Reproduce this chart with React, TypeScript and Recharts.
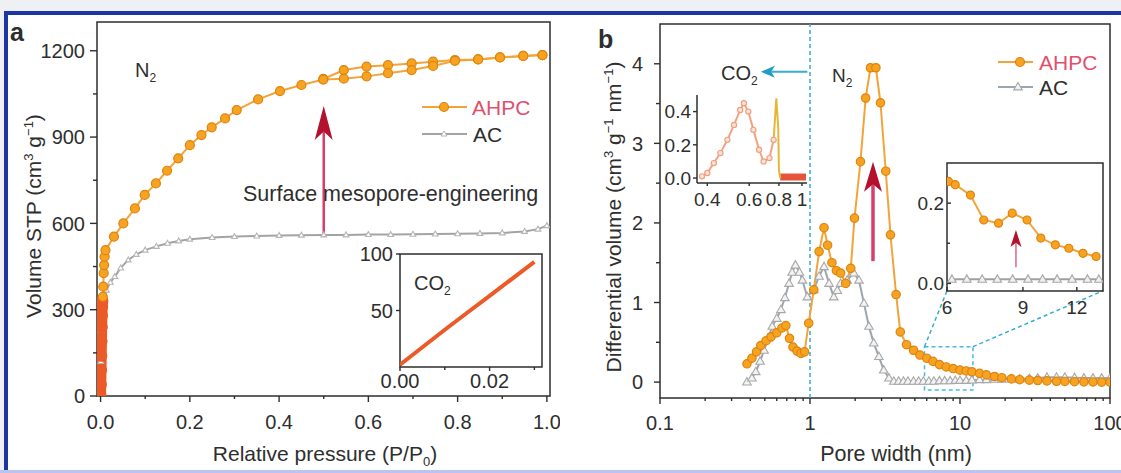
import { LineChart, Line, XAxis, YAxis, ReferenceLine, ReferenceArea } from "recharts";

const FONT = "'Liberation Sans', Arial, Helvetica, sans-serif";
const INK = "#2e2e2e";
const ORANGE = "#f5a320";
const ORANGE_EDGE = "#e0820e";
const ORANGE_LINE = "#f2a43a";
const GRAY = "#a3a3a3";
const RED = "#ec5a28";
const CYAN = "#35acd2";
const CRIMSON = "#d5406a";
const CRIMSON_HEAD = "#b3122f";

type Pt = [number, number];
const rows = (pts: Pt[]) => pts.map(([x, y]) => ({ x, y }));

// ---- panel a: N2 isotherms (P/P0, cm3 g-1)
const ahpcLowP: Pt[] = [[0, 0], [0.0005, 40], [0.001, 90], [0.0015, 140], [0.002, 190], [0.0025, 240], [0.003, 280], [0.0035, 310], [0.004, 330]];
const ahpcAds: Pt[] = [
  [0.005, 345], [0.006, 380], [0.007, 427], [0.008, 455], [0.009, 484], [0.011, 507], [0.03, 554], [0.051, 600],
  [0.077, 652], [0.099, 699], [0.124, 739], [0.149, 783], [0.174, 826], [0.2, 872], [0.226, 907], [0.249, 934],
  [0.279, 965], [0.305, 994], [0.353, 1031], [0.402, 1060], [0.45, 1081], [0.499, 1100], [0.545, 1103], [0.596, 1111],
  [0.644, 1122], [0.697, 1133], [0.745, 1147], [0.794, 1165], [0.846, 1170], [0.895, 1177], [0.947, 1182], [0.99, 1185],
];
const ahpcDes: Pt[] = [
  [0.99, 1185], [0.947, 1182], [0.895, 1177], [0.846, 1170], [0.794, 1168], [0.745, 1162], [0.697, 1156],
  [0.644, 1150], [0.596, 1145], [0.545, 1133], [0.499, 1102],
];
const acIso: Pt[] = [
  [0, 0], [0.0005, 120], [0.0015, 230], [0.003, 280], [0.006, 310], [0.013, 368], [0.022, 395], [0.032, 415],
  [0.045, 445], [0.062, 473], [0.08, 492], [0.1, 507], [0.125, 520], [0.15, 531], [0.175, 539], [0.2, 545],
  [0.25, 551], [0.3, 554], [0.35, 556], [0.4, 558], [0.45, 559], [0.5, 560], [0.55, 560], [0.6, 561], [0.65, 561],
  [0.7, 562], [0.75, 563], [0.8, 564], [0.85, 565], [0.9, 567], [0.95, 572], [0.98, 580], [1.0, 592],
];
// inset a: CO2 isotherm
const co2Iso: Pt[] = [[0, 2], [0.005, 17.5], [0.01, 33], [0.015, 48], [0.02, 63], [0.025, 78], [0.03, 93]];

// ---- panel b: pore size distribution (nm, cm3 g-1 nm-1)
const ahpcPsd: Pt[] = [
  [0.38, 0.23], [0.41, 0.3], [0.44, 0.38], [0.47, 0.46], [0.51, 0.52], [0.55, 0.57], [0.6, 0.62], [0.65, 0.68],
  [0.69, 0.71], [0.73, 0.55], [0.77, 0.44], [0.82, 0.39], [0.87, 0.36], [0.92, 0.38], [0.98, 0.74], [1.06, 1.16],
  [1.15, 1.64], [1.24, 1.94], [1.31, 1.72], [1.4, 1.5], [1.5, 1.4], [1.6, 1.37], [1.73, 1.24], [1.87, 1.43],
  [1.98, 2.06], [2.17, 2.77], [2.35, 3.57], [2.53, 3.95], [2.75, 3.95], [2.95, 3.51], [3.2, 2.65], [3.44, 1.85],
  [3.75, 1.1], [4.0, 0.63], [4.4, 0.47], [4.9, 0.4], [5.4, 0.34], [6.0, 0.3], [6.6, 0.26], [7.3, 0.22], [8.1, 0.19],
  [9.0, 0.17], [10, 0.15], [11, 0.14], [12, 0.13], [13.5, 0.11], [15, 0.09], [17, 0.07], [19, 0.055], [22, 0.04],
  [25, 0.03], [29, 0.025], [33, 0.02], [38, 0.015], [44, 0.01], [50, 0.008], [58, 0.005], [67, 0.003], [77, 0.002],
  [88, 0.0], [100, 0.0],
];
const acPsd: Pt[] = [
  [0.38, 0.0], [0.41, 0.05], [0.435, 0.13], [0.465, 0.26], [0.494, 0.4], [0.525, 0.55], [0.56, 0.7], [0.6, 0.8],
  [0.64, 0.91], [0.68, 1.06], [0.725, 1.24], [0.76, 1.38], [0.8, 1.47], [0.85, 1.38], [0.89, 1.28], [0.96, 1.07],
  [1.06, 1.16], [1.15, 1.33], [1.24, 1.45], [1.34, 1.24], [1.44, 1.07], [1.52, 1.15], [1.6, 1.24], [1.77, 1.28],
  [1.96, 1.37], [2.12, 1.28], [2.29, 0.99], [2.47, 0.7], [2.66, 0.49], [2.88, 0.32], [3.1, 0.15], [3.36, 0.05],
  [3.62, 0.01], [3.9, 0.01], [4.2, 0.01], [4.5, 0.01], [4.9, 0.01], [5.3, 0.01], [5.7, 0.01], [6.2, 0.01],
  [6.7, 0.01], [7.3, 0.015], [7.9, 0.015], [8.6, 0.015], [9.3, 0.02], [10, 0.02], [11, 0.02], [12, 0.025],
  [13.5, 0.03], [15, 0.03], [17, 0.035], [19, 0.035], [22, 0.04], [25, 0.04], [29, 0.045], [33, 0.05], [38, 0.06],
  [44, 0.06], [50, 0.06], [58, 0.055], [67, 0.05], [77, 0.05], [88, 0.05], [100, 0.05],
];
// inset b1: CO2-derived micropores
const co2PsdA: Pt[] = [
  [0.38, 0.01], [0.4, 0.03], [0.426, 0.09], [0.454, 0.15], [0.486, 0.23], [0.518, 0.32], [0.55, 0.41], [0.57, 0.45],
  [0.595, 0.4], [0.625, 0.29], [0.66, 0.17], [0.69, 0.1], [0.73, 0.12], [0.76, 0.23],
];
const co2PsdB: Pt[] = [[0.76, 0.23], [0.78, 0.48], [0.795, 0.3], [0.8, 0.05], [0.81, 0.0]];
const co2Tail: Pt[] = [[0.81, 0.006], [0.86, 0.006], [0.92, 0.006], [0.98, 0.006], [1.04, 0.006]];
// inset b2: 6-13 nm zoom
const ahpcMeso: Pt[] = [
  [6.05, 0.254], [6.27, 0.246], [6.8, 0.22], [7.3, 0.158], [7.9, 0.15], [8.5, 0.175], [9.2, 0.158], [9.9, 0.113],
  [10.7, 0.096], [11.5, 0.0875], [12.4, 0.075], [13.3, 0.067],
];
const acMeso: Pt[] = [
  [6.16, 0.01], [6.67, 0.01], [7.24, 0.01], [7.85, 0.01], [8.52, 0.01], [9.25, 0.01], [10.0, 0.01], [10.8, 0.01],
  [11.7, 0.01], [12.7, 0.01], [13.5, 0.01],
];

// ticks
const aXTicks = [0, 0.1, 0.2, 0.3, 0.4, 0.5, 0.6, 0.7, 0.8, 0.9, 1.0];
const aXLabels: Record<string, string> = { "0": "0.0", "0.2": "0.2", "0.4": "0.4", "0.6": "0.6", "0.8": "0.8", "1": "1.0" };
const aYTicks = [0, 150, 300, 450, 600, 750, 900, 1050, 1200];
const aYLabels: Record<string, string> = { "0": "0", "300": "300", "600": "600", "900": "900", "1200": "1200" };
const bXTicks = [0.1, 0.2, 0.3, 0.4, 0.5, 0.6, 0.7, 0.8, 0.9, 1, 2, 3, 4, 5, 6, 7, 8, 9, 10, 20, 30, 40, 50, 60, 70, 80, 90, 100];
const bXLabels: Record<string, string> = { "0.1": "0.1", "1": "1", "10": "10", "100": "100" };
const bYTicks = [0, 0.5, 1, 1.5, 2, 2.5, 3, 3.5, 4];
const bYLabels: Record<string, string> = { "0": "0", "1": "1", "2": "2", "3": "3", "4": "4" };
const iaXTicks = [0, 0.01, 0.02, 0.03];
const iaXLabels: Record<string, string> = { "0": "0.00", "0.02": "0.02" };
const iaYTicks = [0, 25, 50, 75, 100];
const iaYLabels: Record<string, string> = { "50": "50", "100": "100" };
const ib1XTicks = [0.4, 0.6, 0.8, 1];
const ib1XLabels: Record<string, string> = { "0.4": "0.4", "0.6": "0.6", "0.8": "0.8", "1": "1" };
const ib1YTicks = [0, 0.1, 0.2, 0.3, 0.4];
const ib1YLabels: Record<string, string> = { "0": "0.0", "0.2": "0.2", "0.4": "0.4" };
const ib2XTicks = [6, 9, 12];
const ib2XLabels: Record<string, string> = { "6": "6", "9": "9", "12": "12" };
const ib2YTicks = [0, 0.1, 0.2];
const ib2YLabels: Record<string, string> = { "0": "0.0", "0.2": "0.2" };

type TickSpec = { labels: Record<string, string>; fs: number; gap: number; len?: number; minor?: number; inward?: boolean };

const bottomTick = (s: TickSpec) => (p: any) => {
  const { x, y, payload } = p;
  const lab = s.labels[String(payload.value)];
  const len = lab !== undefined ? s.len ?? 6 : s.minor ?? 3;
  const d = s.inward ? -len : len;
  return (
    <g>
      <line x1={x} x2={x} y1={y} y2={y + d} stroke={INK} strokeWidth={1.4} />
      {lab ? (
        <text x={x} y={y + s.gap} textAnchor="middle" fontSize={s.fs} fontFamily={FONT} fill={INK}>
          {lab}
        </text>
      ) : null}
    </g>
  );
};

const leftTick = (s: TickSpec) => (p: any) => {
  const { x, y, payload } = p;
  const lab = s.labels[String(payload.value)];
  const len = lab !== undefined ? s.len ?? 7 : s.minor ?? 4;
  const d = s.inward ? len : -len;
  return (
    <g>
      <line x1={x} x2={x + d} y1={y} y2={y} stroke={INK} strokeWidth={1.4} />
      {lab ? (
        <text x={x - s.gap} y={y + s.fs * 0.36} textAnchor="end" fontSize={s.fs} fontFamily={FONT} fill={INK}>
          {lab}
        </text>
      ) : null}
    </g>
  );
};

const arrowShape = (shaft: string, head: string, shaftW: number, headLen: number, headHalf: number) => (p: any) => {
  const { x1, y1, x2, y2 } = p;
  const L = Math.hypot(x2 - x1, y2 - y1) || 1;
  const ux = (x2 - x1) / L;
  const uy = (y2 - y1) / L;
  const bx = x2 - ux * headLen;
  const by = y2 - uy * headLen;
  const nx = -uy;
  const ny = ux;
  const kx = bx + ux * headLen * 0.25;
  const ky = by + uy * headLen * 0.25;
  return (
    <g>
      <line x1={x1} y1={y1} x2={kx} y2={ky} stroke={shaft} strokeWidth={shaftW} />
      <polygon
        points={`${x2},${y2} ${bx + nx * headHalf},${by + ny * headHalf} ${kx},${ky} ${bx - nx * headHalf},${by - ny * headHalf}`}
        fill={head}
      />
    </g>
  );
};

const circleDot = (r: number, fill: string, stroke: string) => (p: any) => (
  <circle key={`c${p.index}`} cx={p.cx} cy={p.cy} r={r} fill={fill} stroke={stroke} strokeWidth={1.2} />
);
const triDot = (s: number, stroke: string, fill: string) => (p: any) => (
  <polygon
    key={`t${p.index}`}
    points={`${p.cx},${p.cy - s} ${p.cx - s * 0.95},${p.cy + s * 0.65} ${p.cx + s * 0.95},${p.cy + s * 0.65}`}
    fill={fill}
    stroke={stroke}
    strokeWidth={1.1}
  />
);

const abs = (left: number, top: number) => ({ position: "absolute" as const, left, top });

function PanelA() {
  return (
    <div style={abs(0, 0)}>
      <LineChart width={560} height={473} margin={{ top: 22, right: 10, bottom: 0, left: 0 }}>
        <XAxis type="number" dataKey="x" domain={[-0.008, 1.007]} allowDataOverflow ticks={aXTicks} interval={0}
          height={77} axisLine={false} tickLine={false} tickSize={0} tickMargin={0}
          tick={bottomTick({ labels: aXLabels, fs: 20, gap: 33 })} />
        <YAxis type="number" dataKey="y" domain={[0, 1300]} allowDataOverflow ticks={aYTicks} interval={0}
          width={97} axisLine={false} tickLine={false} tickSize={0} tickMargin={0}
          tick={leftTick({ labels: aYLabels, fs: 20, gap: 12 })} />
        <ReferenceArea x1={-0.008} x2={1.007} y1={0} y2={1300} fill="none" stroke={INK} strokeWidth={1.5} ifOverflow="visible" />
        <Line data={rows(acIso)} dataKey="y" stroke={GRAY} strokeWidth={2} dot={triDot(3, "#b5b5b5", "#fff")} isAnimationActive={false} />
        <Line data={rows(ahpcLowP)} dataKey="y" stroke={RED} strokeWidth={11} dot={circleDot(5.5, RED, RED)} isAnimationActive={false} />
        <Line data={rows(ahpcDes)} dataKey="y" stroke={ORANGE_LINE} strokeWidth={2} dot={circleDot(4.5, ORANGE, ORANGE_EDGE)} isAnimationActive={false} />
        <Line data={rows(ahpcAds)} dataKey="y" stroke={ORANGE_LINE} strokeWidth={2} dot={circleDot(4.5, ORANGE, ORANGE_EDGE)} isAnimationActive={false} />
        <ReferenceLine segment={[{ x: 0.5, y: 553 }, { x: 0.5, y: 1008 }]} ifOverflow="visible"
          shape={arrowShape(CRIMSON, CRIMSON_HEAD, 2.5, 34, 9)} />
      </LineChart>
    </div>
  );
}

function InsetA() {
  return (
    <div style={abs(340, 240)}>
      <LineChart width={215} height={160} margin={{ top: 14, right: 13, bottom: 0, left: 0 }}>
        <XAxis type="number" dataKey="x" domain={[0, 0.0317]} allowDataOverflow ticks={iaXTicks} interval={0}
          height={33} axisLine={false} tickLine={false} tickSize={0} tickMargin={0}
          tick={bottomTick({ labels: iaXLabels, fs: 20, gap: 21, len: 4, minor: 3 })} />
        <YAxis type="number" dataKey="y" domain={[0, 100]} allowDataOverflow ticks={iaYTicks} interval={0}
          width={60} axisLine={false} tickLine={false} tickSize={0} tickMargin={0}
          tick={leftTick({ labels: iaYLabels, fs: 20, gap: 7, len: 4, minor: 0 })} />
        <ReferenceArea x1={0} x2={0.0317} y1={0} y2={100} fill="none" stroke={INK} strokeWidth={1.5} ifOverflow="visible" />
        <Line data={rows(co2Iso)} dataKey="y" stroke={RED} strokeWidth={4} dot={false} isAnimationActive={false} />
      </LineChart>
    </div>
  );
}

function PanelB() {
  return (
    <div style={abs(560, 0)}>
      <LineChart width={561} height={473} margin={{ top: 24, right: 11, bottom: 0, left: 0 }}>
        <XAxis type="number" dataKey="x" scale="log" domain={[0.1, 100]} allowDataOverflow ticks={bXTicks} interval={0}
          height={75} axisLine={false} tickLine={false} tickSize={0} tickMargin={0}
          tick={bottomTick({ labels: bXLabels, fs: 20, gap: 32 })} />
        <YAxis type="number" dataKey="y" domain={[-0.2, 4.5]} allowDataOverflow ticks={bYTicks} interval={0}
          width={100} axisLine={false} tickLine={false} tickSize={0} tickMargin={0}
          tick={leftTick({ labels: bYLabels, fs: 20, gap: 17, len: 6, minor: 4 })} />
        <ReferenceArea x1={0.1} x2={100} y1={-0.2} y2={4.5} fill="none" stroke={INK} strokeWidth={1.5} ifOverflow="visible" />
        <ReferenceLine x={1} stroke={CYAN} strokeWidth={1.5} strokeDasharray="4 3" />
        <ReferenceArea x1={5.8} x2={12.2} y1={-0.1} y2={0.445} fill="none" stroke="#47b9e3" strokeWidth={1.5} strokeDasharray="4 3" />
        <ReferenceLine segment={[{ x: 5.8, y: 0.445 }, { x: 8.2, y: 1.15 }]} stroke={CYAN} strokeWidth={1.5} strokeDasharray="4 3" ifOverflow="visible" />
        <ReferenceLine segment={[{ x: 12.2, y: 0.445 }, { x: 90.5, y: 1.15 }]} stroke={CYAN} strokeWidth={1.5} strokeDasharray="4 3" ifOverflow="visible" />
        <Line data={rows(acPsd)} dataKey="y" stroke="#9ba6b0" strokeWidth={2} dot={triDot(4.5, "#a8a8a8", "#f3f3f3")} isAnimationActive={false} />
        <Line data={rows(ahpcPsd)} dataKey="y" stroke={ORANGE_LINE} strokeWidth={2} dot={circleDot(4.2, ORANGE, ORANGE_EDGE)} isAnimationActive={false} />
        <ReferenceLine segment={[{ x: 2.63, y: 1.52 }, { x: 2.63, y: 2.77 }]} ifOverflow="visible"
          shape={arrowShape(CRIMSON, CRIMSON_HEAD, 3.5, 30, 9)} />
        <ReferenceLine segment={[{ x: 0.96, y: 3.9 }, { x: 0.47, y: 3.9 }]} ifOverflow="visible"
          shape={arrowShape(CYAN, "#1f9fc4", 2, 14, 6)} />
      </LineChart>
    </div>
  );
}

function InsetB1() {
  return (
    <div style={abs(650, 85)}>
      <LineChart width={165} height={130} margin={{ top: 10, right: 8, bottom: 0, left: 0 }}>
        <XAxis type="number" dataKey="x" scale="log" domain={[0.362, 1.05]} allowDataOverflow ticks={ib1XTicks} interval={0}
          height={32} axisLine={{ stroke: INK, strokeWidth: 1.5 }} tickLine={false} tickSize={0} tickMargin={0}
          tick={bottomTick({ labels: ib1XLabels, fs: 19, gap: 23, len: 3 })} />
        <YAxis type="number" dataKey="y" domain={[-0.03, 0.5]} allowDataOverflow ticks={ib1YTicks} interval={0}
          width={47} axisLine={{ stroke: INK, strokeWidth: 1.5 }} tickLine={false} tickSize={0} tickMargin={0}
          tick={leftTick({ labels: ib1YLabels, fs: 19, gap: 6, len: 4, minor: 0 })} />
        <Line data={rows(co2Tail)} dataKey="y" stroke="#e6553a" strokeWidth={7} dot={false} isAnimationActive={false} />
        <Line data={rows(co2PsdA)} dataKey="y" stroke="#f2a283" strokeWidth={2} dot={circleDot(2.6, "#fbe3d6", "#f0a080")} isAnimationActive={false} />
        <Line data={rows(co2PsdB)} dataKey="y" stroke="#e3b83a" strokeWidth={2} dot={false} isAnimationActive={false} />
      </LineChart>
    </div>
  );
}

function InsetB2() {
  return (
    <div style={abs(905, 150)}>
      <LineChart width={210} height={170} margin={{ top: 13, right: 12, bottom: 0, left: 0 }}>
        <XAxis type="number" dataKey="x" scale="log" domain={[6, 13.8]} allowDataOverflow ticks={ib2XTicks} interval={0}
          height={29} axisLine={false} tickLine={false} tickSize={0} tickMargin={0}
          tick={bottomTick({ labels: ib2XLabels, fs: 19, gap: 23, len: 4, inward: true })} />
        <YAxis type="number" dataKey="y" domain={[-0.019, 0.3]} allowDataOverflow ticks={ib2YTicks} interval={0}
          width={42} axisLine={false} tickLine={false} tickSize={0} tickMargin={0}
          tick={leftTick({ labels: ib2YLabels, fs: 19, gap: 3, len: 4, minor: 3, inward: true })} />
        <ReferenceArea x1={6} x2={13.8} y1={-0.019} y2={0.3} fill="none" stroke={INK} strokeWidth={1.5} ifOverflow="visible" />
        <Line data={rows(acMeso)} dataKey="y" stroke="#9aa0a6" strokeWidth={2} dot={triDot(4.5, "#a8a8a8", "#f0f0f0")} isAnimationActive={false} />
        <Line data={rows(ahpcMeso)} dataKey="y" stroke={ORANGE_LINE} strokeWidth={2} dot={circleDot(4, ORANGE, ORANGE_EDGE)} isAnimationActive={false} />
        <ReferenceLine segment={[{ x: 8.67, y: 0.04 }, { x: 8.67, y: 0.133 }]} ifOverflow="visible"
          shape={arrowShape("#e0708c", CRIMSON_HEAD, 1.6, 17, 5.5)} />
      </LineChart>
    </div>
  );
}

const T = { fontFamily: FONT, fill: INK };

function Overlay() {
  return (
    <svg width={1121} height={473} style={{ ...abs(0, 0), pointerEvents: "none" }}>
      <rect x={0} y={0} width={1121} height={11} fill="#eef0f4" />
      <rect x={0} y={0} width={4} height={473} fill="#eef0f4" />
      <rect x={4} y={11} width={1117} height={4} fill="#1d34a3" />
      <rect x={4} y={11} width={4} height={460} fill="#1d34a3" />
      <rect x={0} y={470} width={1121} height={3} fill="#b9c5f0" />

      <text x={10} y={41} fontSize={25} fontWeight="bold" {...T}>a</text>
      <text x={598} y={48} fontSize={25} fontWeight="bold" {...T}>b</text>

      <text x={135} y={77} fontSize={20} {...T}>N<tspan dy={5} fontSize={12}>2</tspan></text>
      <text x={832} y={82} fontSize={19} {...T}>N<tspan dy={5} fontSize={12}>2</tspan></text>
      <text x={721} y={80} fontSize={20} {...T}>CO<tspan dy={5} fontSize={12}>2</tspan></text>
      <text x={414} y={290} fontSize={20} {...T}>CO<tspan dy={5} fontSize={12}>2</tspan></text>

      <text x={243} y={201} fontSize={21.5} {...T}>Surface mesopore-engineering</text>

      <text x={325} y={461} fontSize={21} textAnchor="middle" {...T}>
        Relative pressure (P/P<tspan dy={5} fontSize={13}>0</tspan><tspan dy={-5}>)</tspan>
      </text>
      <text x={896} y={461} fontSize={21.5} textAnchor="middle" {...T}>Pore width (nm)</text>

      <text x={41} y={216} fontSize={21} textAnchor="middle" transform="rotate(-90 41 216)" {...T}>
        Volume STP (cm<tspan dy={-8} fontSize={13}>3</tspan><tspan dy={8}> g</tspan>
        <tspan dy={-8} fontSize={13}>−1</tspan><tspan dy={8}>)</tspan>
      </text>
      <text x={621} y={217} fontSize={21} textAnchor="middle" transform="rotate(-90 621 217)" {...T}>
        Differential volume (cm<tspan dy={-8} fontSize={13}>3</tspan><tspan dy={8}> g</tspan>
        <tspan dy={-8} fontSize={13}>−1</tspan><tspan dy={8}> nm</tspan>
        <tspan dy={-8} fontSize={13}>−1</tspan><tspan dy={8}>)</tspan>
      </text>

      {/* legend a */}
      <line x1={422} x2={467} y1={107} y2={107} stroke={ORANGE_LINE} strokeWidth={2} />
      <circle cx={444} cy={107} r={4.5} fill={ORANGE} stroke={ORANGE_EDGE} strokeWidth={1.2} />
      <text x={472} y={114.5} fontSize={21} fontFamily={FONT} fill="#e0506e">AHPC</text>
      <line x1={422} x2={467} y1={134} y2={134} stroke={GRAY} strokeWidth={2} />
      <polygon points="444,131 441,136 447,136" fill="#fff" stroke="#b5b5b5" strokeWidth={1} />
      <text x={473} y={141.5} fontSize={21} {...T}>AC</text>

      {/* legend b */}
      <line x1={998} x2={1033} y1={62} y2={62} stroke={ORANGE_LINE} strokeWidth={2} />
      <circle cx={1020} cy={62} r={4.5} fill={ORANGE} stroke={ORANGE_EDGE} strokeWidth={1.2} />
      <text x={1039} y={69.5} fontSize={21} fontFamily={FONT} fill="#e0506e">AHPC</text>
      <line x1={998} x2={1033} y1={87} y2={87} stroke="#9ba6b0" strokeWidth={2} />
      <polygon points="1018,82.5 1013.7,89.9 1022.3,89.9" fill="#f3f3f3" stroke="#a8a8a8" strokeWidth={1.1} />
      <text x={1039} y={94.5} fontSize={21} {...T}>AC</text>
    </svg>
  );
}

export default function App() {
  return (
    <div style={{ position: "absolute", left: 0, top: 0, width: 1121, height: 473, background: "#fff", overflow: "hidden" }}>
      <PanelA />
      <PanelB />
      <InsetA />
      <InsetB1 />
      <InsetB2 />
      <Overlay />
    </div>
  );
}
